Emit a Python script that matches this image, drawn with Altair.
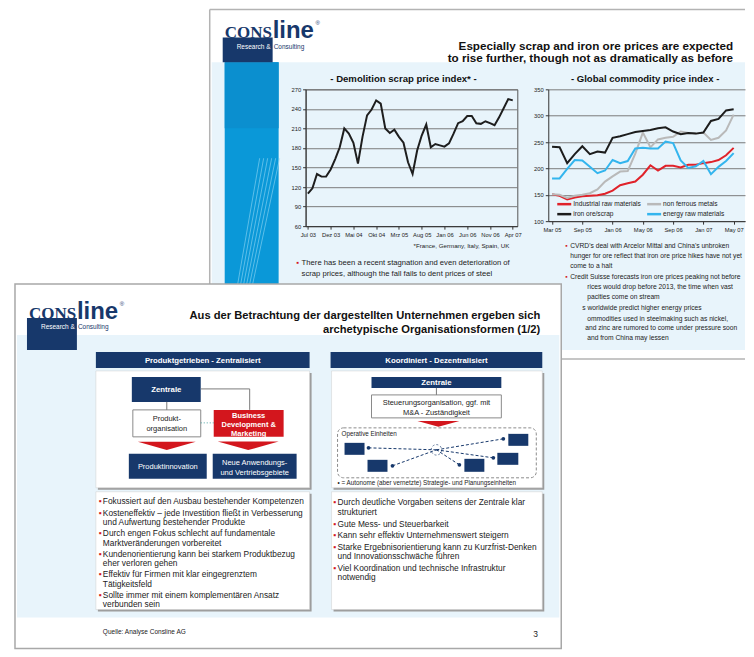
import altair as alt
import pandas as pd

# ---------------- chart data ----------------
scrap_tick_labels = ["Jul 03", "Dez 03", "Mai 04", "Okt 04", "Mrz 05", "Aug 05",
                     "Jan 06", "Jun 06", "Nov 06", "Apr 07"]
scrap_index = [110, 118, 140, 136, 136, 147, 163, 181, 210, 202, 188, 156, 197, 230,
               239, 253, 248, 210, 203, 208, 197, 188, 158, 140, 176, 199, 216, 181,
               186, 184, 182, 187, 202, 218, 221, 229, 229, 218, 217, 221, 218, 215,
               227, 241, 255, 253]

commodity_tick_labels = ["Mar 05", "Sep 05", "Jan 06", "May 06", "Sep 06", "Jan 07", "May 07"]
commodity_series = ["Industrial raw materials", "non ferrous metals",
                    "iron ore/scrap", "energy raw materials"]
industrial_raw = [151, 148, 141, 145, 147, 148, 149, 152, 158, 168, 172, 175, 188,
                  206, 196, 205, 205, 202, 207, 207, 210, 212, 216, 225, 239]
non_ferrous = [151, 150, 144, 148, 150, 153, 160, 175, 185, 194, 195, 228, 268,
               240, 255, 258, 260, 270, 267, 266, 268, 254, 258, 272, 302]
iron_ore_scrap = [241, 240, 210, 227, 242, 227, 232, 230, 258, 261, 265, 269, 271,
                  273, 276, 278, 270, 265, 267, 266, 268, 290, 294, 310, 312]
energy_raw = [181, 181, 199, 216, 215, 203, 191, 196, 216, 210, 214, 238, 239,
              238, 238, 251, 248, 215, 201, 204, 214, 189, 203, 214, 229]
commodity_colors = ["#e0222a", "#b9b9b9", "#1c1c1c", "#33b5ee"]

# ---------------- slide texts ----------------
back_title = ["Especially scrap and iron ore prices are expected",
              "to rise further, though not as dramatically as before"]
scrap_title = "- Demolition scrap price index* -"
commodity_title = "- Global commodity price index -"
scrap_note = "*France, Germany, Italy, Spain, UK"
back_left_bullet = ["There has been a recent stagnation and even deterioration of",
                    "scrap prices, although the fall fails to dent prices of steel"]
back_right_lines = ["CVRD's deal with Arcelor Mittal and China's unbroken",
                    "hunger for ore reflect that iron ore price hikes have not yet",
                    "come to a halt",
                    "Credit Suisse forecasts iron ore prices peaking not before",
                    "rices would drop before 2013, the time when vast",
                    "pacities come on stream",
                    "s worldwide predict higher energy prices",
                    "ommodities used in steelmaking such as nickel,",
                    "and zinc are rumored to come under pressure soon",
                    "and from China may lessen"]

front_title = ["Aus der Betrachtung der dargestellten Unternehmen ergeben sich",
               "archetypische Organisationsformen (1/2)"]
front_left_bullets = [
    ["Fokussiert auf den Ausbau bestehender Kompetenzen"],
    ["Kosteneffektiv \u2013 jede Investition flie\u00dft in Verbesserung",
     "und Aufwertung bestehender Produkte"],
    ["Durch engen Fokus schlecht auf fundamentale",
     "Marktver\u00e4nderungen vorbereitet"],
    ["Kundenorientierung kann bei starkem Produktbezug", "eher verloren gehen"],
    ["Effektiv f\u00fcr Firmen mit klar eingegrenztem", "T\u00e4tigkeitsfeld"],
    ["Sollte immer mit einem komplement\u00e4ren Ansatz", "verbunden sein"],
]
front_right_bullets = [
    ["Durch deutliche Vorgaben seitens der Zentrale klar", "strukturiert"],
    ["Gute Mess- und Steuerbarkeit"],
    ["Kann sehr effektiv Unternehmenswert steigern"],
    ["Starke Ergebnisorientierung kann zu Kurzfrist-Denken",
     "und Innovationsschw\u00e4che f\u00fchren"],
    ["Viel Koordination und technische Infrastruktur", "notwendig"],
]

FONT = "Liberation Sans"
NAVY = "#17386b"
RED = "#d3161d"
LBLUE = "#e8f4fb"
INK = "#111111"

# The decoration panel's origin is the left chart row's top (page 8, 89).
# Back-slide layout is given relative to page (8, 8); front slide relative to page (8, 280).
BACK_DY = -81
FRONT_DY = 191


# ---------------- helpers ----------------
def px(field):
    return alt.X(field, scale=None, axis=None)


def py(field):
    return alt.Y(field, scale=None, axis=None)


def texts(rows, dy, align="left", weight="normal", font=FONT, baseline="alphabetic"):
    df = pd.DataFrame(rows, columns=["t", "x", "y", "s", "c"])
    df["y"] = df["y"] + dy
    return alt.Chart(df).mark_text(align=align, baseline=baseline,
                                   fontWeight=weight, font=font).encode(
        x=px("x:Q"), y=py("y:Q"), text="t:N",
        size=alt.Size("s:Q", scale=None, legend=None),
        color=alt.Color("c:N", scale=None, legend=None))


def rects(rows, dy, **mark):
    df = pd.DataFrame(rows, columns=["x", "x2", "y", "y2", "f", "st", "sw"])
    df["y"] = df["y"] + dy
    df["y2"] = df["y2"] + dy
    return alt.Chart(df).mark_rect(**mark).encode(
        x=px("x:Q"), x2="x2:Q", y=py("y:Q"), y2="y2:Q",
        color=alt.Color("f:N", scale=None, legend=None),
        stroke=alt.Stroke("st:N", scale=None, legend=None),
        strokeWidth=alt.StrokeWidth("sw:Q", scale=None, legend=None))


def rules(rows, dy, **mark):
    df = pd.DataFrame(rows, columns=["x", "x2", "y", "y2"])
    df["y"] = df["y"] + dy
    df["y2"] = df["y2"] + dy
    return alt.Chart(df).mark_rule(**mark).encode(
        x=px("x:Q"), x2="x2:Q", y=py("y:Q"), y2="y2:Q")


def points(rows, dy, **mark):
    df = pd.DataFrame(rows, columns=["x", "y", "s"])
    df["y"] = df["y"] + dy
    return alt.Chart(df).mark_point(**mark).encode(
        x=px("x:Q"), y=py("y:Q"), size=alt.Size("s:Q", scale=None, legend=None))


def bullet_rows(items, xb, xt, y0, lh, gap, size, color="#222"):
    trows, brows = [], []
    y = y0
    for k, item in enumerate(items):
        if k > 0:
            y += gap
        brows.append(["\u25aa", xb, y, size, RED])
        for line in item:
            trows.append([line, xt, y, size, color])
            y += lh
    return trows, brows


def label_expr(labels, step):
    arr = "[" + ",".join("'%s'" % l for l in labels) + "]"
    return "%s[round(datum.value / %d)]" % (arr, step)


axis_common = dict(labelFont=FONT, labelFontSize=5.8, labelColor="#222",
                   tickColor="#333", domainColor="#333", tickSize=3,
                   labelPadding=2, title=None)

# ---------------- back slide ----------------
D = BACK_DY
back_rects = rects([
    [0, 738, 0, 54, "white", "transparent", 0],
    [204, 738, 54, 342, LBLUE, "transparent", 0],
    [217, 271, 54, 276, "#0a98d8", "transparent", 0],
    [217, 271, 54, 120, "#0b8fcf", "transparent", 0],
    [215, 265, 29, 54, NAVY, "transparent", 0],
], D)
band_lines = rules([[230 + 3 * k, 252 + 4 * k, 276, 150] for k in range(6)], D,
                   color="#9fdcf6", strokeWidth=0.7, opacity=0.8)
back_rules = rules([[202, 202, 1, 352], [202, 738, 1, 1], [202, 738, 351, 351]], D,
                   color="#b3b3b3", strokeWidth=1.5)
back_logo = alt.layer(
    texts([["CONS", 217, 30, 17, NAVY]], D, weight="bold", font="Liberation Serif"),
    texts([["line", 265, 30, 24, NAVY]], D, weight="bold"),
    texts([["\u00ae", 308, 17, 6, NAVY],
           ["Research &", 229, 40.5, 6.5, "white"],
           ["Consulting", 266, 40.5, 6.5, NAVY]], D),
)
back_titles = texts([[back_title[0], 726, 42, 11.7, INK],
                     [back_title[1], 726, 54, 11.7, INK]], D, align="right", weight="bold")
chart_titles = texts([[scrap_title, 396, 74, 9.6, INK],
                      [commodity_title, 638, 74, 9.6, INK]], D, align="center", weight="bold")
note = texts([[scrap_note, 502, 240, 6.2, "#222"]], D, align="right")
bl_t, bl_b = bullet_rows([back_left_bullet], 289, 294, 257, 10.5, 0, 7.7)
right_x = [563, 563, 563, 563, 580, 580, 575, 580, 578, 580]
right_y = [239.5, 249.5, 259.5, 270.5, 280.5, 290.5, 301.5, 312.5, 322.5, 332.5]
br_t = [[t, x, y, 6.7, "#222"] for t, x, y in zip(back_right_lines, right_x, right_y)]
br_b = [["\u25aa", 558, right_y[0], 6.7, RED], ["\u25aa", 558, right_y[3], 6.7, RED]]
back_texts = texts(bl_t + br_t + bl_b + br_b, D)

# ---------------- front slide ----------------
F = FRONT_DY
front_rects = rects([
    [7, 554, 4, 369, "white", "#a8a8a8", 1.5],
    [9, 552, 55, 338, LBLUE, "transparent", 0],
    [19, 69, 38, 70, NAVY, "transparent", 0],
    [88, 302, 72, 88, NAVY, "transparent", 0],
    [323, 535, 72, 88, NAVY, "transparent", 0],
    [90, 304, 93, 210, "#9c9c9c", "transparent", 0],
    [326, 537, 93, 210, "#9c9c9c", "transparent", 0],
    [90, 304, 214, 332, "#9c9c9c", "transparent", 0],
    [326, 537, 214, 332, "#9c9c9c", "transparent", 0],
    [88, 302, 91, 208, "white", "#cfcfcf", 0.5],
    [324, 535, 91, 208, "white", "#cfcfcf", 0.5],
    [88, 302, 212, 330, "white", "#cfcfcf", 0.5],
    [324, 535, 212, 330, "white", "#cfcfcf", 0.5],
    [124, 193, 97, 122, NAVY, "transparent", 0],
    [125, 193, 130, 157, "white", "#8a8a8a", 1],
    [206, 276, 130, 157, RED, "transparent", 0],
    [121, 199, 174, 199, NAVY, "transparent", 0],
    [205, 289, 174, 199, NAVY, "transparent", 0],
    [364, 494, 97, 108, NAVY, "transparent", 0],
    [364, 494, 115, 138, "white", "#8a8a8a", 1],
    [337, 357, 163, 175, NAVY, "transparent", 0],
    [360, 380, 180, 192, NAVY, "transparent", 0],
    [457, 477, 179, 192, NAVY, "transparent", 0],
    [490, 511, 173, 185, NAVY, "transparent", 0],
    [501, 521, 154, 166, NAVY, "transparent", 0],
], F)
dashed_box = rects([[330, 529, 148, 198, "transparent", "#8c8c8c", 1]], F,
                   cornerRadius=6, strokeDash=[3, 2])
solid_lines = rules([[159, 159, 122, 130], [193, 242, 109, 109], [242, 242, 109, 130],
                     [429, 429, 108, 115]], F, color="#7a7a7a", strokeWidth=1)
dotted_line = rules([[193, 206, 143, 143]], F, color="#4aa3a3", strokeDash=[1, 2])
dots = [[361, 168], [385, 186], [452, 185], [486, 178], [496, 159]]
net_lines = rules([[x, 429, y, 170] for x, y in dots], F, color=NAVY, strokeWidth=1,
                  strokeDash=[3, 2])
net_dots = points([[x, y, 14] for x, y in dots], F, filled=True, color=NAVY, opacity=1)
net_center = points([[429, 170, 110]], F, filled=False, color=NAVY, strokeDash=[2, 2],
                    strokeWidth=1)
arrow_path = "M-1,-0.14L1,-0.14L0,0.14Z"
arrows = points([[159, 166, 58 ** 2], [240.5, 166, 61 ** 2], [431, 144, 42 ** 2]], F,
                shape=arrow_path, filled=True, color=RED, opacity=1)

front_logo = alt.layer(
    texts([["CONS", 21, 39, 17, NAVY]], F, weight="bold", font="Liberation Serif"),
    texts([["line", 69, 39, 24, NAVY]], F, weight="bold"),
    texts([["\u00ae", 112, 26, 6, NAVY],
           ["Research &", 33, 49.5, 6.5, "white"],
           ["Consulting", 70, 49.5, 6.5, NAVY]], F),
)
front_titles = texts([[front_title[0], 533, 39, 11.2, INK],
                      [front_title[1], 533, 53, 11.2, INK]], F, align="right", weight="bold")
bar_texts = texts([["Produktgetrieben - Zentralisiert", 195, 83, 7.8, "white"],
                   ["Koordiniert - Dezentralisiert", 429, 83, 7.8, "white"],
                   ["Zentrale", 158.5, 112.5, 7.8, "white"],
                   ["Zentrale", 429, 105.5, 7.8, "white"],
                   ["Business", 241, 138, 7.5, "white"],
                   ["Development &", 241, 147, 7.5, "white"],
                   ["Marketing", 241, 156, 7.5, "white"]], F, align="center", weight="bold")
diagram_texts = texts([["Produkt-", 159, 141, 7.5, "#222"],
                       ["organisation", 159, 151, 7.5, "#222"],
                       ["Produktinnovation", 160, 189.5, 7.5, "white"],
                       ["Neue Anwendungs-", 247, 185, 7.5, "white"],
                       ["und Vertriebsgebiete", 247, 195, 7.5, "white"],
                       ["Steuerungsorganisation, ggf. mit", 429, 125, 7.5, "#222"],
                       ["M&A - Zust\u00e4ndigkeit", 429, 135, 7.5, "#222"]], F, align="center")
fl_t, fl_b = bullet_rows(front_left_bullets, 91, 95, 224.7, 9.3, 2, 8.35)
fr_t, fr_b = bullet_rows(front_right_bullets, 326, 330, 225.7, 9.57, 2, 8.35)
small_texts = texts(fl_t + fl_b + fr_t + fr_b + [
    ["Operative Einheiten", 334, 156, 6.3, "#222"],
    ["\u2022 = Autonome (aber vernetzte) Strategie- und Planungseinheiten", 330, 205, 6.3, "#222"],
    ["Quelle: Analyse Consline AG", 95, 354, 6.5, "#222"],
    ["3", 526, 357, 8.5, "#222"],
], F)

decor = alt.layer(
    back_rects, band_lines, back_rules, back_logo, back_titles, chart_titles, note,
    back_texts, front_rects, dashed_box, solid_lines, dotted_line, net_lines, net_dots,
    net_center, arrows, front_logo, front_titles, bar_texts, diagram_texts, small_texts,
).properties(width=267, height=137)

# ---------------- charts ----------------
scrap_df = pd.DataFrame({"m": list(range(len(scrap_index))), "v": scrap_index})
rows = []
for name, vals in zip(commodity_series, [industrial_raw, non_ferrous, iron_ore_scrap, energy_raw]):
    for i, v in enumerate(vals):
        rows.append({"m": i, "v": v, "series": name})
comm_df = pd.DataFrame(rows)

chartL = alt.Chart(scrap_df).mark_line(color="#1e1e1e", strokeWidth=2).encode(
    x=alt.X("m:Q", scale=alt.Scale(domain=[-0.5, 46], nice=False),
            axis=alt.Axis(values=list(range(0, 46, 5)),
                          labelExpr=label_expr(scrap_tick_labels, 5), grid=False,
                          **axis_common)),
    y=alt.Y("v:Q", scale=alt.Scale(domain=[60, 270], nice=False, zero=False),
            axis=alt.Axis(values=list(range(60, 271, 30)), grid=True,
                          gridColor="#7a7a7a", gridWidth=1, **axis_common)),
).properties(width=212, height=137, view=alt.ViewBackground(stroke="#555", strokeWidth=1))

comm_lines = alt.Chart(comm_df).mark_line(strokeWidth=2).encode(
    x=alt.X("m:Q", scale=alt.Scale(domain=[-0.5, 25.5], nice=False),
            axis=alt.Axis(values=list(range(0, 25, 4)),
                          labelExpr=label_expr(commodity_tick_labels, 4), grid=False,
                          **axis_common)),
    y=alt.Y("v:Q", scale=alt.Scale(domain=[100, 350], nice=False, zero=False),
            axis=alt.Axis(values=list(range(100, 351, 50)), grid=True,
                          gridColor="#7a7a7a", gridWidth=1, **axis_common)),
    color=alt.Color("series:N",
                    scale=alt.Scale(domain=commodity_series, range=commodity_colors),
                    legend=None),
)

# in-plot legend (two columns), positioned in plot pixels
legend_layers = []
for k, (name, col) in enumerate(zip(commodity_series, commodity_colors)):
    lx = 9 + 90 * (k % 2)
    ly = 115 + 10 * (k // 2)
    one = pd.DataFrame({"s": [name]})
    legend_layers.append(alt.Chart(one).mark_rule(color=col, strokeWidth=2.5).encode(
        x=alt.value(lx), x2=alt.value(lx + 14), y=alt.value(ly)))
    legend_layers.append(alt.Chart(one).mark_text(
        align="left", baseline="middle", font=FONT, fontSize=6.6, color="#222").encode(
        x=alt.value(lx + 16), y=alt.value(ly), text="s:N"))

chartR = alt.layer(comm_lines, *legend_layers).properties(width=197, height=132)

chart = alt.hconcat(decor, chartL, chartR, spacing=31, bounds="flush").properties(
    padding=0, background="white").configure_view(stroke=None)

chart.save("out.html", embed_options={"renderer": "svg", "actions": False})
